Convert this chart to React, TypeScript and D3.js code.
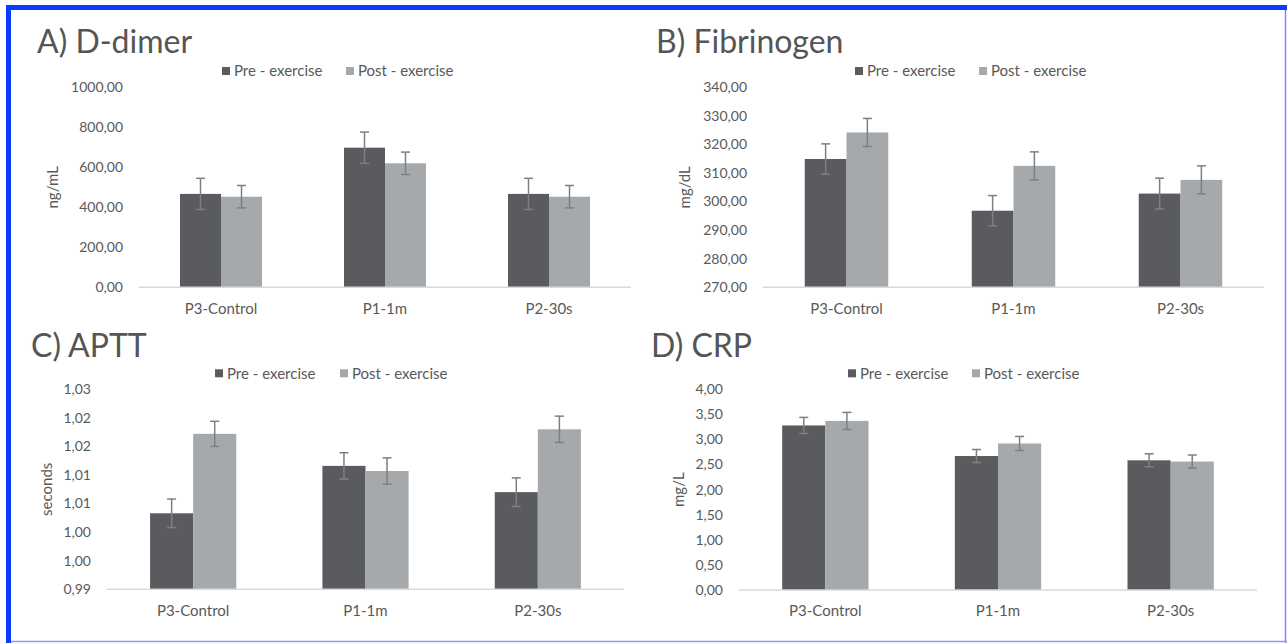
import React from "react";
import * as d3 from "d3";

const categories = ["P3-Control", "P1-1m", "P2-30s"];
const seriesNames = ["Pre - exercise", "Post - exercise"];

// A) D-dimer
const ddimerPre = [467, 698, 467];
const ddimerPost = [453, 620, 453];
const ddimerPreErr = [78, 78, 78];
const ddimerPostErr = [56, 56, 56];
const ddimerTicks = [0, 200, 400, 600, 800, 1000];
const ddimerTickLabels = ["0,00", "200,00", "400,00", "600,00", "800,00", "1000,00"];

// B) Fibrinogen
const fibPre = [314.9, 296.8, 302.8];
const fibPost = [324.2, 312.5, 307.6];
const fibPreErr = [5.3, 5.3, 5.4];
const fibPostErr = [4.9, 4.9, 4.9];
const fibTicks = [270, 280, 290, 300, 310, 320, 330, 340];
const fibTickLabels = ["270,00", "280,00", "290,00", "300,00", "310,00", "320,00", "330,00", "340,00"];

// C) APTT
const apttPre = [1.0033, 1.0116, 1.007];
const apttPost = [1.0172, 1.0107, 1.018];
const apttPreErr = [0.0025, 0.0023, 0.0025];
const apttPostErr = [0.0022, 0.0023, 0.0023];
const apttTicks = [0.99, 0.995, 1.0, 1.005, 1.01, 1.015, 1.02, 1.025];
const apttTickLabels = ["0,99", "1,00", "1,00", "1,01", "1,01", "1,02", "1,02", "1,03"];

// D) CRP
const crpPre = [3.28, 2.67, 2.585];
const crpPost = [3.37, 2.92, 2.56];
const crpPreErr = [0.16, 0.13, 0.13];
const crpPostErr = [0.17, 0.14, 0.13];
const crpTicks = [0, 0.5, 1, 1.5, 2, 2.5, 3, 3.5, 4];
const crpTickLabels = ["0,00", "0,50", "1,00", "1,50", "2,00", "2,50", "3,00", "3,50", "4,00"];

const PRE_COLOR = "#5a5b5f";
const POST_COLOR = "#a6a9ac";
const TEXT = "#595959";
const FONT = "Lato, 'Open Sans', sans-serif";

function Panel(props: any) {
  const { title, unit, pre, post, preErr, postErr, ticks, tickLabels, box } = props;
  const x = d3.scaleBand().domain(categories).range([box.left, box.right]);
  const y = d3
    .scaleLinear()
    .domain([ticks[0], ticks[ticks.length - 1]])
    .range([box.bottom, box.top]);
  const inner = d3.scaleBand().domain(["pre", "post"]).range([0, x.bandwidth() / 2]);
  const groupOffset = x.bandwidth() / 4;

  const series = [
    { key: "pre", vals: pre, errs: preErr, color: PRE_COLOR },
    { key: "post", vals: post, errs: postErr, color: POST_COLOR },
  ];

  return (
    <g fontFamily={FONT}>
      <text x={box.titleX} y={box.titleY} fontSize={32} fill="#555">
        {title}
      </text>
      {/* legend */}
      {seriesNames.map((name, i) => (
        <g key={name} transform={`translate(${box.legendX[i]},${box.legendY})`}>
          <rect x={0} y={-4} width={8} height={8} fill={i === 0 ? PRE_COLOR : POST_COLOR} />
          <text x={12} y={0} dy="0.35em" fontSize={15} fill={TEXT}>
            {name}
          </text>
        </g>
      ))}
      {/* y ticks */}
      {ticks.map((t: number, i: number) => (
        <text
          key={i}
          x={box.left - 16}
          y={y(t)}
          dy="0.35em"
          textAnchor="end"
          fontSize={14}
          fill={TEXT}
        >
          {tickLabels[i]}
        </text>
      ))}
      <text
        transform={`translate(${box.unitX},${(box.top + box.bottom) / 2}) rotate(-90)`}
        textAnchor="middle"
        dy="0.35em"
        fontSize={15}
        fill={TEXT}
      >
        {unit}
      </text>
      {/* bars */}
      {series.map((s) =>
        categories.map((c, i) => (
          <rect
            key={s.key + c}
            x={(x(c) as number) + groupOffset + (inner(s.key) as number)}
            y={y(s.vals[i])}
            width={inner.bandwidth()}
            height={box.bottom - y(s.vals[i])}
            fill={s.color}
          />
        ))
      )}
      {/* baseline */}
      <line x1={box.left} x2={box.right} y1={box.bottom} y2={box.bottom} stroke="#d9d9d9" strokeWidth={1.5} />
      {/* error bars */}
      {series.map((s) =>
        categories.map((c, i) => {
          const cx = (x(c) as number) + groupOffset + (inner(s.key) as number) + inner.bandwidth() / 2;
          const y1 = y(s.vals[i] + s.errs[i]);
          const y0 = y(s.vals[i] - s.errs[i]);
          return (
            <g key={"e" + s.key + c} stroke="#7f7f7f" strokeWidth={1.5}>
              <line x1={cx} x2={cx} y1={y1} y2={y0} />
              <line x1={cx - 4.5} x2={cx + 4.5} y1={y1} y2={y1} />
              <line x1={cx - 4.5} x2={cx + 4.5} y1={y0} y2={y0} />
            </g>
          );
        })
      )}
      {/* category labels */}
      {categories.map((c) => (
        <text
          key={c}
          x={(x(c) as number) + x.bandwidth() / 2}
          y={box.bottom + 21}
          dy="0.35em"
          textAnchor="middle"
          fontSize={15}
          fill={TEXT}
        >
          {c}
        </text>
      ))}
    </g>
  );
}

export default function App() {
  return (
    <svg
      width={1287}
      height={643}
      style={{ position: "absolute", left: 0, top: 0, background: "#fff" }}
    >
      <rect x={0} y={0} width={1287} height={643} fill="#fff" />
      <Panel
        title="A) D-dimer"
        unit="ng/mL"
        pre={ddimerPre}
        post={ddimerPost}
        preErr={ddimerPreErr}
        postErr={ddimerPostErr}
        ticks={ddimerTicks}
        tickLabels={ddimerTickLabels}
        box={{ left: 139, right: 631, top: 87.3, bottom: 287.3, titleX: 37, titleY: 53, legendX: [222, 346], legendY: 71, unitX: 53 }}
      />
      <Panel
        title="B) Fibrinogen"
        unit="mg/dL"
        pre={fibPre}
        post={fibPost}
        preErr={fibPreErr}
        postErr={fibPostErr}
        ticks={fibTicks}
        tickLabels={fibTickLabels}
        box={{ left: 763, right: 1264, top: 87.3, bottom: 287.3, titleX: 656, titleY: 53, legendX: [855, 979], legendY: 71, unitX: 685 }}
      />
      <Panel
        title="C) APTT"
        unit="seconds"
        pre={apttPre}
        post={apttPost}
        preErr={apttPreErr}
        postErr={apttPostErr}
        ticks={apttTicks}
        tickLabels={apttTickLabels}
        box={{ left: 107, right: 624, top: 389.3, bottom: 589.3, titleX: 31, titleY: 357, legendX: [215, 340], legendY: 373.3, unitX: 47 }}
      />
      <Panel
        title="D) CRP"
        unit="mg/L"
        pre={crpPre}
        post={crpPost}
        preErr={crpPreErr}
        postErr={crpPostErr}
        ticks={crpTicks}
        tickLabels={crpTickLabels}
        box={{ left: 739, right: 1257, top: 389.3, bottom: 590, titleX: 651, titleY: 357, legendX: [848, 972], legendY: 373.3, unitX: 679 }}
      />
      {/* frame */}
      <line x1={8.5} x2={8.5} y1={5} y2={643} stroke="#0a3cff" strokeWidth={5} />
      <line x1={6} x2={1287} y1={7.5} y2={7.5} stroke="#0a3cff" strokeWidth={5} />
      <line x1={1285.5} x2={1285.5} y1={10} y2={643} stroke="#7d8cf5" strokeWidth={1.5} />
      <line x1={11} x2={1287} y1={641.5} y2={641.5} stroke="#8c9af5" strokeWidth={1.5} />
    </svg>
  );
}
